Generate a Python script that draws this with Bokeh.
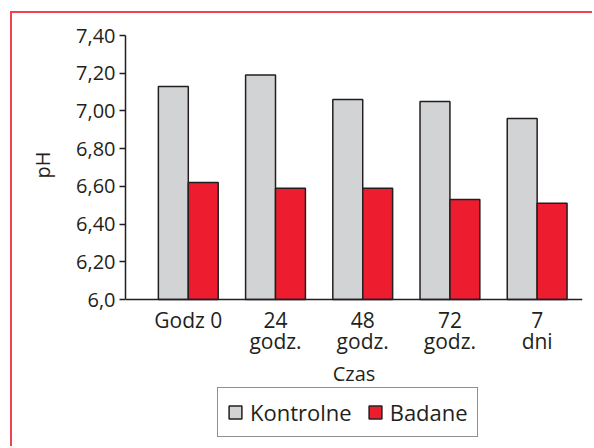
from bokeh.plotting import figure
from bokeh.models import Range1d, FixedTicker, Legend, LegendItem, ColumnDataSource, Title
from bokeh.transform import dodge
from bokeh.embed import file_html
from bokeh.resources import INLINE

# ---- data ----
categories = ["Godz 0", "24\ngodz.", "48\ngodz.", "72\ngodz.", "7\ndni"]
kontrolne = [7.13, 7.19, 7.06, 7.05, 6.96]
badane = [6.62, 6.59, 6.59, 6.53, 6.51]
series_names = ["Kontrolne", "Badane"]
y_ticks = [6.0, 6.2, 6.4, 6.6, 6.8, 7.0, 7.2, 7.4]
y_tick_labels = ["6,0", "6,20", "6,40", "6,60", "6,80", "7,00", "7,20", "7,40"]
x_title = "Czas"
y_title = "pH"

FONT = "Open Sans"
GRAY = "#d1d3d4"
RED = "#ed1c2e"
EDGE = "#231f20"

y_min, y_max = y_ticks[0], y_ticks[-1]
# frame extends below the value axis to hold the legend (layout only)
y_start = y_min - (y_max - y_min) * 141.0 / 264.0

idx = list(range(len(categories)))
src = ColumnDataSource(dict(idx=idx, kontrolne=kontrolne, badane=badane))

p = figure(width=582, height=435, output_backend="svg", toolbar_location=None,
           x_range=Range1d(-0.72, 4.52), y_range=Range1d(y_start, y_max),
           min_border_left=111, min_border_right=12, min_border_top=22,
           min_border_bottom=8)
p.styles = {"border-left": "2px solid #ef4352", "border-top": "2px solid #ef4352",
            "margin-left": "10px", "margin-top": "11px"}
p.outline_line_color = None
p.grid.grid_line_color = None
p.background_fill_color = "white"
p.border_fill_color = "white"

bw = 0.343
r1 = p.vbar(x=dodge("idx", -bw / 2), top="kontrolne", bottom=y_min, width=bw,
            source=src, fill_color=GRAY, line_color=EDGE, line_width=1.5)
r2 = p.vbar(x=dodge("idx", bw / 2), top="badane", bottom=y_min, width=bw,
            source=src, fill_color=RED, line_color=EDGE, line_width=1.5)

# x axis (drawn at the 6,0 baseline)
xa = p.xaxis[0]
xa.fixed_location = y_min
xa.ticker = FixedTicker(ticks=idx)
xa.major_label_overrides = {i: c for i, c in zip(idx, categories)}
xa.major_tick_line_color = None
xa.minor_tick_line_color = None
xa.axis_line_color = EDGE
xa.axis_line_width = 1.5
xa.major_label_text_font = FONT
xa.major_label_text_font_size = "21px"
xa.major_label_text_line_height = 0.75
xa.major_label_text_color = "#231f20"
xa.major_label_standoff = 0
xa.axis_label = x_title
xa.axis_label_text_font = FONT
xa.axis_label_text_font_size = "20px"
xa.axis_label_text_font_style = "normal"
xa.axis_label_text_color = "#231f20"
xa.axis_label_standoff = 2

# y axis
ya = p.yaxis[0]
ya.bounds = (y_min, y_max)
ya.ticker = FixedTicker(ticks=y_ticks)
ya.major_label_overrides = {t: l for t, l in zip(y_ticks, y_tick_labels)}
ya.major_tick_out = 6
ya.major_tick_in = 0
ya.major_tick_line_width = 1.5
ya.major_tick_line_color = EDGE
ya.minor_tick_line_color = None
ya.axis_line_color = EDGE
ya.axis_line_width = 1.5
ya.major_label_text_font = FONT
ya.major_label_text_font_size = "20px"
ya.major_label_text_color = "#231f20"
ya.major_label_standoff = 4

# y title, placed beside the 6,0-7,40 span
p.add_layout(Title(text=y_title, align="left", offset=262, standoff=32,
                   vertical_align="top",
                   text_font=FONT, text_font_size="20px", text_font_style="normal",
                   text_color="#231f20"), "left")

legend = Legend(items=[LegendItem(label=series_names[0], renderers=[r1]),
                       LegendItem(label=series_names[1], renderers=[r2])],
                location=(92, 3), orientation="horizontal",
                border_line_color=EDGE, border_line_width=1.5,
                background_fill_color="white", background_fill_alpha=1,
                glyph_width=16, glyph_height=16, label_standoff=7, spacing=15,
                padding=9, margin=0, label_height=20,
                label_text_font=FONT, label_text_font_size="22px",
                label_text_color="#231f20")
p.add_layout(legend)

open("out.html", "w").write(file_html(p, INLINE))
